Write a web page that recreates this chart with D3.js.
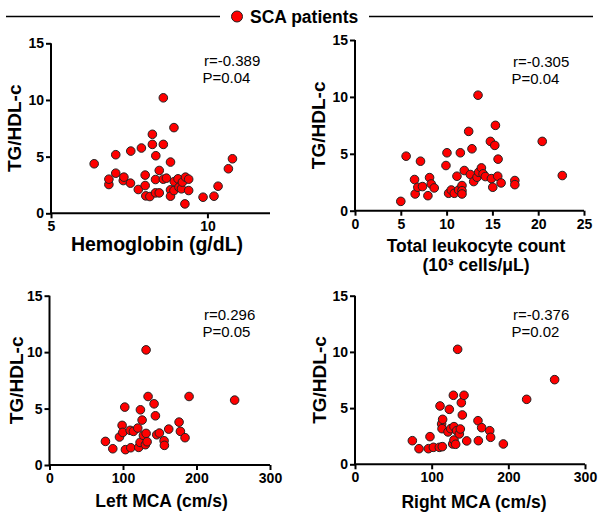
<!DOCTYPE html>
<html><head><meta charset="utf-8">
<script src="https://cdn.jsdelivr.net/npm/d3@7"></script>
<style>body{margin:0;background:#fff}svg{display:block}text{font-family:"Liberation Sans",Arial,sans-serif}</style>
</head><body><svg id="c" width="600" height="515"></svg>
<script>
const legendLabel = "SCA patients";
const yLabel = "TG/HDL-c";
const yTicks = [0, 5, 10, 15];

// Panel 1: Hemoglobin
const hbX = [6.38,6.85,6.85,7.07,7.07,7.31,7.33,7.54,7.55,7.79,7.89,8.01,8.01,8.03,8.16,8.24,8.24,8.35,8.34,8.34,8.46,8.46,8.59,8.59,8.59,8.69,8.82,8.82,8.82,8.93,8.93,8.94,9.06,9.09,9.17,9.20,9.30,9.28,9.40,9.40,9.86,10.21,10.34,10.67,10.80];
const hbY = [4.37,2.54,3.01,5.17,3.54,2.89,3.19,2.66,5.49,2.10,5.76,3.37,2.45,1.54,1.48,6.97,6.08,5.08,2.98,1.80,1.80,3.78,10.19,6.08,3.01,3.10,4.52,2.07,1.51,7.56,2.01,2.80,3.04,2.30,2.16,2.75,3.19,0.83,3.01,2.01,1.42,1.51,2.39,3.93,4.81];
const hbTicks = [5, 10];

// Panel 2: Total leukocyte count
const wbcX = [5.0,5.58,6.50,6.57,6.86,7.15,7.37,7.96,8.14,8.32,8.65,9.93,10.04,10.22,10.51,10.84,11.13,11.31,11.68,11.68,11.68,11.50,11.93,12.41,12.59,12.77,12.96,13.32,13.43,13.50,13.80,13.98,14.23,14.78,14.89,15.04,15.26,15.33,15.58,15.62,15.95,17.45,17.45,20.44,22.63];
const wbcY = [0.82,4.79,2.74,1.47,2.06,4.35,2.12,1.32,2.91,2.35,2.00,3.97,5.09,1.53,1.82,1.53,3.03,1.82,2.21,1.76,1.47,5.09,3.53,6.97,3.18,5.44,2.56,2.94,10.15,3.38,3.76,3.24,3.00,6.09,2.82,2.06,5.74,7.50,3.03,4.53,2.44,2.65,2.29,6.09,3.09];
const wbcTicks = [0, 5, 10, 15, 20, 25];

// Panel 3: Left MCA
const lmcaX = [76.1,86.1,95.2,98.8,99.7,102.4,103.3,109.7,110.6,114.2,120.1,121.4,123.2,123.7,126.0,127.8,130.5,131.4,131.4,132.8,134.1,142.3,144.1,145.9,149.5,155.9,156.3,162.2,176.3,178.1,184.4,189.9,251.9];
const lmcaY = [2.09,1.44,2.48,3.51,2.89,5.13,1.36,3.07,1.53,2.98,3.27,1.56,2.00,4.89,3.98,2.62,1.80,10.20,2.80,2.06,6.07,5.42,4.36,2.68,2.83,2.15,1.74,3.18,3.80,2.98,2.42,6.07,5.75];

// Panel 4: Right MCA
const rmcaX = [74.8,83.5,97.8,95.7,102.2,110.0,113.9,110.9,113.0,114.3,113.5,121.3,123.0,124.8,127.4,128.3,129.1,129.1,131.3,132.6,133.9,136.1,137.4,138.7,140.0,142.2,145.7,160.4,160.9,165.2,175.7,176.9,193.5,223.9,260.4];
const rmcaY = [2.10,1.39,2.46,1.39,1.51,1.51,1.57,5.19,3.59,4.00,3.17,2.88,4.89,3.17,1.81,6.14,3.35,2.16,1.78,2.99,10.23,2.70,3.14,5.48,4.39,6.14,2.08,3.88,2.10,3.26,2.99,2.40,1.81,5.78,7.53];
const mcaTicks = [0, 100, 200, 300];

const xTitles = [["Hemoglobin (g/dL)"], ["Total leukocyte count", "(10³ cells/μL)"], ["Left MCA (cm/s)"], ["Right MCA (cm/s)"]];
const stats = [["r=-0.389","P=0.04"],["r=-0.305","P=0.04"],["r=0.296","P=0.05"],["r=-0.376","P=0.02"]];

const panels = [
  {xs: hbX, ys: hbY, xd: [5, 12], ticks: hbTicks, x0: 51, x1: 270, y0: 213.3, y1: 43.3, tx: 157, ty: 251, tf: 19.5, sx: 204, sy: 66, yt: 14},
  {xs: wbcX, ys: wbcY, xd: [0, 25], ticks: wbcTicks, x0: 355, x1: 584, y0: 210.7, y1: 40, tx: 476, ty: 251.5, tf: 17.5, sx: 513, sy: 66.5, yt: 318},
  {xs: lmcaX, ys: lmcaY, xd: [0, 300], ticks: mcaTicks, x0: 49.5, x1: 270, y0: 465, y1: 295.7, tx: 161.5, ty: 506.5, tf: 17.5, sx: 204, sy: 320, yt: 16},
  {xs: rmcaX, ys: rmcaY, xd: [0, 300], ticks: mcaTicks, x0: 355, x1: 585, y0: 464.3, y1: 295.7, tx: 474, ty: 508, tf: 17.5, sx: 513, sy: 320, yt: 319}
];

const svg = d3.select("#c");

// legend
const lg = svg.append("g");
lg.append("line").attr("x1", 6).attr("x2", 220).attr("y1", 16.5).attr("y2", 16.5).attr("stroke", "#000").attr("stroke-width", 1.5);
lg.append("line").attr("x1", 369).attr("x2", 593).attr("y1", 16.5).attr("y2", 16.5).attr("stroke", "#000").attr("stroke-width", 1.5);
lg.append("circle").attr("cx", 237).attr("cy", 16.5).attr("r", 5.5).attr("fill", "#ff0000").attr("stroke", "#222").attr("stroke-width", 1);
lg.append("text").attr("x", 250).attr("y", 23).attr("font-size", 17.5).attr("font-weight", "bold").text(legendLabel);

panels.forEach((p, i) => {
  const x = d3.scaleLinear().domain(p.xd).range([p.x0, p.x1]);
  const y = d3.scaleLinear().domain([0, 15]).range([p.y0, p.y1]);
  const g = svg.append("g");
  const xa = g.append("g").attr("transform", `translate(0,${p.y0})`)
    .call(d3.axisBottom(x).tickValues(p.ticks).tickSize(5).tickPadding(3).tickFormat(d3.format("d")));
  const ya = g.append("g").attr("transform", `translate(${p.x0},0)`)
    .call(d3.axisLeft(y).tickValues(yTicks).tickSize(5).tickPadding(2).tickFormat(d3.format("d")));
  [xa, ya].forEach(a => {
    a.select(".domain").attr("stroke", "#000").attr("stroke-width", 2);
    a.selectAll(".tick line").attr("stroke", "#000").attr("stroke-width", 2);
    a.selectAll(".tick text").attr("fill", "#000").attr("font-size", 14).attr("font-weight", "bold")
      .attr("font-family", '"Liberation Sans",Arial,sans-serif');
  });
  xa.select(".domain").attr("d", `M${p.x0},0H${p.x1}`);
  ya.select(".domain").attr("d", `M0,${p.y0}V${p.y1}`);

  g.append("text").attr("transform", `translate(${p.yt},${(p.y0 + p.y1) / 2}) rotate(-90)`)
    .attr("text-anchor", "middle").attr("dy", "0.35em").attr("font-size", 19).attr("font-weight", "bold").text(yLabel);

  xTitles[i].forEach((t, k) => {
    g.append("text").attr("x", p.tx).attr("y", p.ty + k * 19).attr("text-anchor", "middle")
      .attr("font-size", p.tf).attr("font-weight", "bold").text(t);
  });
  stats[i].forEach((t, k) => {
    g.append("text").attr("x", p.sx - (k ? 1.5 : 0)).attr("y", p.sy + k * 17).attr("font-size", 15).text(t);
  });

  const pts = p.xs.map((v, j) => [v, p.ys[j]]);
  g.selectAll("circle").data(pts).join("circle")
    .attr("cx", d => x(d[0])).attr("cy", d => y(d[1])).attr("r", 4.3)
    .attr("fill", "#ff0000").attr("stroke", "#222").attr("stroke-width", 1);
});
</script></body></html>
